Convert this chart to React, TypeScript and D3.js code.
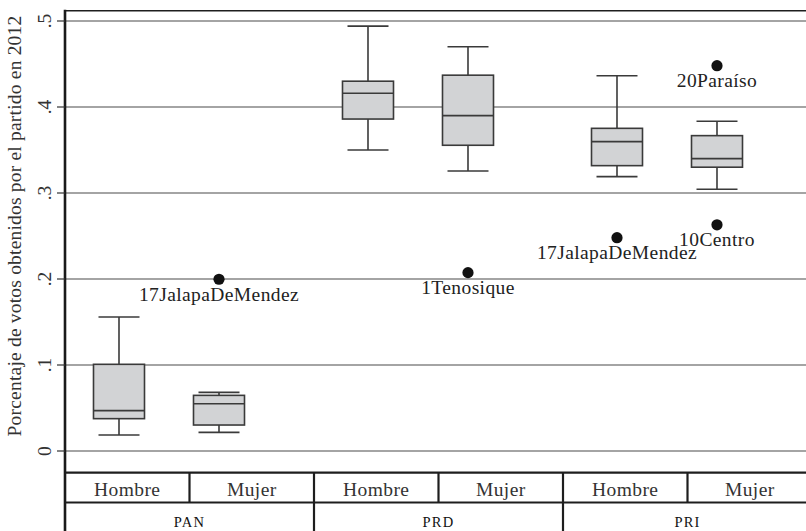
import React from 'react';
import * as d3 from 'd3';

const parties = ['PAN', 'PRD', 'PRI'];
const sexes = ['Hombre', 'Mujer'];
const yTicks = [0, 0.1, 0.2, 0.3, 0.4, 0.5];
const tickLabels = ['0', '.1', '.2', '.3', '.4', '.5'];

// box stats, ordered PAN-H, PAN-M, PRD-H, PRD-M, PRI-H, PRI-M
const whiskerLow = [0.0186, 0.0217, 0.35, 0.3256, 0.319, 0.3043];
const q1 = [0.0376, 0.0302, 0.386, 0.3555, 0.3318, 0.33];
const median = [0.0469, 0.055, 0.416, 0.39, 0.3597, 0.34];
const q3 = [0.1008, 0.0647, 0.43, 0.437, 0.3752, 0.3667];
const whiskerHigh = [0.1558, 0.0682, 0.494, 0.47, 0.4364, 0.3834];

const outlierParty = ['PAN', 'PRD', 'PRI', 'PRI', 'PRI'];
const outlierSex = ['Mujer', 'Mujer', 'Hombre', 'Mujer', 'Mujer'];
const outlierValue = [0.1997, 0.2074, 0.248, 0.263, 0.448];
const outlierLabel = ['17JalapaDeMendez', '1Tenosique', '17JalapaDeMendez', '10Centro', '20Paraíso'];

const W = 806;
const H = 531;
const font = '"Liberation Serif", "Times New Roman", serif';

export default function App() {
  const left = 65;
  const plotTop = 10.7;
  const tableTop = 472.7;
  const tableMid = 502.5;

  const y = d3.scaleLinear().domain([0, 0.5]).range([451, 21]);
  const gx = d3.scaleBand().domain(parties).range([left, 812]).padding(0);
  const sx = d3.scaleBand().domain(sexes).range([0, gx.bandwidth()]).padding(0);
  const bx = d3.scalePoint().domain(sexes).range([0, gx.bandwidth()]).padding(0.745).align(0.3624);

  const boxW = 51;
  const capW = 41;
  const boxes = parties.flatMap((p, i) =>
    sexes.map((s, j) => {
      const k = i * 2 + j;
      return {
        key: p + s,
        cx: (gx(p) as number) + (bx(s) as number),
        lo: whiskerLow[k], q1: q1[k], md: median[k], q3: q3[k], hi: whiskerHigh[k],
      };
    })
  );

  return (
    <div style={{ position: 'absolute', left: 0, top: 0 }}>
      <svg width={W} height={H} style={{ display: 'block', background: '#fff' }} fontFamily={font}>
        {/* gridlines */}
        {yTicks.map((t) => (
          <line key={'g' + t} x1={left} x2={W} y1={y(t)} y2={y(t)} stroke="#4a4a4a" strokeWidth={1.2} />
        ))}
        <line x1={left} x2={W} y1={plotTop} y2={plotTop} stroke="#1e1e1e" strokeWidth={1.6} />

        {/* boxes */}
        {boxes.map((b) => (
          <g key={b.key} stroke="#3a3a3a" strokeWidth={1.6}>
            <line x1={b.cx} x2={b.cx} y1={y(b.hi)} y2={y(b.q3)} />
            <line x1={b.cx} x2={b.cx} y1={y(b.q1)} y2={y(b.lo)} />
            <line x1={b.cx - capW / 2} x2={b.cx + capW / 2} y1={y(b.hi)} y2={y(b.hi)} />
            <line x1={b.cx - capW / 2} x2={b.cx + capW / 2} y1={y(b.lo)} y2={y(b.lo)} />
            <rect x={b.cx - boxW / 2} width={boxW} y={y(b.q3)} height={y(b.q1) - y(b.q3)} fill="#d2d3d5" />
            <line x1={b.cx - boxW / 2} x2={b.cx + boxW / 2} y1={y(b.md)} y2={y(b.md)} />
          </g>
        ))}

        {/* outliers */}
        {outlierValue.map((v, i) => {
          const cx = (gx(outlierParty[i]) as number) + (bx(outlierSex[i]) as number);
          return (
            <g key={'o' + i}>
              <circle cx={cx} cy={y(v)} r={5.6} fill="#111" />
              <text x={cx} y={y(v) + 21.5} textAnchor="middle" fontSize={19.5} letterSpacing={0.4} fill="#222">
                {outlierLabel[i]}
              </text>
            </g>
          );
        })}

        {/* y axis */}
        <line x1={left} x2={left} y1={plotTop - 1} y2={H} stroke="#1a1a1a" strokeWidth={2.6} />
        {yTicks.map((t, i) => (
          <g key={'t' + t}>
            <line x1={57} x2={left} y1={y(t)} y2={y(t)} stroke="#333" strokeWidth={1.2} />
            <text transform={`translate(51,${y(t)}) rotate(-90)`} textAnchor="middle" fontSize={19.5} fill="#333">
              {tickLabels[i]}
            </text>
          </g>
        ))}
        <text transform="translate(21,226) rotate(-90)" textAnchor="middle" fontSize={19.5} letterSpacing={0.2} fill="#333">
          Porcentaje de votos obtenidos por el partido en 2012
        </text>

        {/* category table */}
        <line x1={left} x2={W} y1={tableTop} y2={tableTop} stroke="#1e1e1e" strokeWidth={2.2} />
        <line x1={left} x2={W} y1={tableMid} y2={tableMid} stroke="#1e1e1e" strokeWidth={2.2} />
        {parties.map((p) => (
          <g key={'c' + p}>
            {(gx(p) as number) > left && (
              <line x1={gx(p)} x2={gx(p)} y1={tableTop} y2={H} stroke="#1e1e1e" strokeWidth={2.2} />
            )}
            <line
              x1={(gx(p) as number) + (sx('Mujer') as number)}
              x2={(gx(p) as number) + (sx('Mujer') as number)}
              y1={tableTop}
              y2={tableMid}
              stroke="#1e1e1e"
              strokeWidth={2.2}
            />
            {sexes.map((s) => (
              <text
                key={p + s}
                x={(gx(p) as number) + (sx(s) as number) + sx.bandwidth() / 2}
                y={495.5}
                textAnchor="middle"
                fontSize={19.5}
                letterSpacing={0.4}
                fill="#333"
              >
                {s}
              </text>
            ))}
            <text
              x={(gx(p) as number) + gx.bandwidth() / 2}
              y={526.5}
              textAnchor="middle"
              fontSize={14.5}
              letterSpacing={1.2}
              fill="#111"
            >
              {p}
            </text>
          </g>
        ))}
      </svg>
    </div>
  );
}
